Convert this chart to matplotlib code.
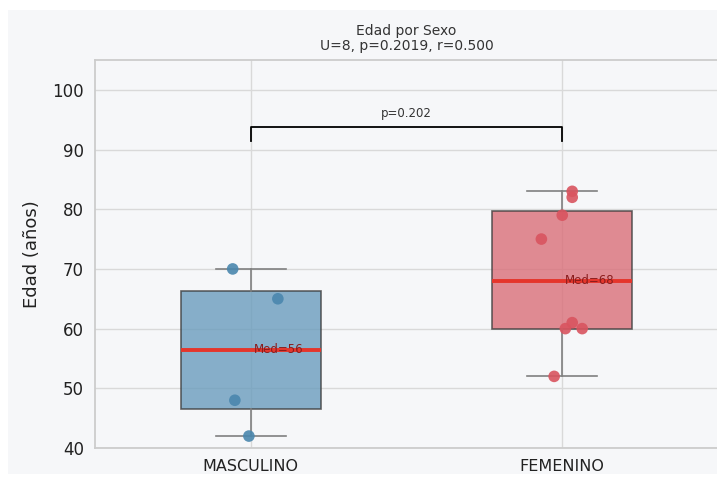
import matplotlib as mpl

mpl.use("Agg")
import matplotlib.pyplot as plt
import numpy as np
from matplotlib.patches import Rectangle

# edades por grupo
grupos = ["MASCULINO", "FEMENINO"]
edad_masc = [70, 65, 48, 42]
edad_fem = [83, 82, 79, 75, 61, 60, 60, 52]
# desplazamiento horizontal (jitter) de cada punto
jit_masc = [-0.058, 0.087, -0.051, -0.006]
jit_fem = [0.032, 0.032, 0.0, -0.067, 0.032, 0.01, 0.064, -0.026]

U_stat = 8
p_val = 0.2019
r_eff = 0.500

box_colors = ["#6a9cbd", "#da6f79"]
pt_colors = ["#4a87ae", "#d9545f"]
bg = "#f6f7f9"

fig = plt.figure(figsize=(7.17, 4.8), dpi=100, facecolor="white")
fondo = Rectangle((8 / 717, 6 / 480), 1, 464 / 480, transform=fig.transFigure,
                  facecolor=bg, edgecolor="none", zorder=-10)
fig.add_artist(fondo)
ax = fig.add_axes([95 / 717, 32 / 480, 623 / 717, 388 / 480])
ax.set_facecolor(bg)

datos = [edad_masc, edad_fem]
jits = [jit_masc, jit_fem]
bp = ax.boxplot(datos, positions=[0, 1], widths=0.45, patch_artist=True,
                showfliers=False, whis=10,
                boxprops=dict(edgecolor="#3f3f3f", linewidth=1.2),
                whiskerprops=dict(color="#808080", linewidth=1.2),
                capprops=dict(color="#808080", linewidth=1.2),
                medianprops=dict(color="#e5352b", linewidth=2.8),
                zorder=3)
for box, c in zip(bp["boxes"], box_colors):
    box.set_facecolor(c)
    box.set_alpha(0.8)
for cap in bp["caps"]:
    x0, x1 = cap.get_xdata()
    m = (x0 + x1) / 2
    cap.set_xdata([m - 0.113, m + 0.113])

for i, (d, j) in enumerate(zip(datos, jits)):
    ax.scatter(np.array(j) + i, d, s=70, color=pt_colors[i], alpha=0.9, zorder=4,
               edgecolor="none")
    med = np.median(d)
    ax.text(i + 0.01, med, f"Med={med:.0f}", fontsize=8.5, color="#8a1c1c",
            va="center", ha="left", zorder=5)

# corchete de significancia
y_br, h = 93.8, 2.4
ax.plot([0, 0, 1, 1], [y_br - h, y_br, y_br, y_br - h], color="black", lw=1.3, zorder=5)
ax.text(0.5, y_br + 1.2, f"p={p_val:.3f}", ha="center", va="bottom", fontsize=8.5,
        color="#333333")

ax.set_xlim(-0.5, 1.5)
ax.set_ylim(40, 105)
ax.set_yticks([40, 50, 60, 70, 80, 90, 100])
ax.set_xticks([0, 1])
ax.set_xticklabels(grupos, fontsize=11.5, color="#222222")
ax.tick_params(axis="y", labelsize=12, colors="#222222", length=0, pad=8)
ax.tick_params(axis="x", length=0, pad=8)
ax.grid(True, color="#d9d9d9", linewidth=1)
ax.set_axisbelow(True)
for s in ax.spines.values():
    s.set_color("#cccccc")
    s.set_linewidth(1.3)
ax.spines["right"].set_visible(False)
ax.set_ylabel("Edad (años)", fontsize=13, color="#222222", labelpad=8)
ax.set_title(f"Edad por Sexo\nU={U_stat}, p={p_val:.4f}, r={r_eff:.3f}", fontsize=10,
             color="#333333", pad=7, linespacing=1.1)

fig.savefig("out.png", dpi=100, facecolor="white")
